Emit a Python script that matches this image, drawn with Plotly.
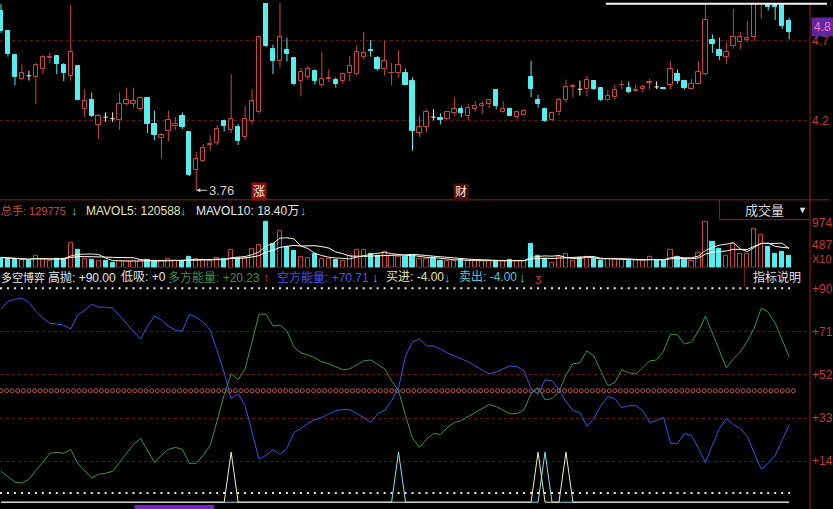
import numpy as np
import plotly.graph_objects as go

W, H = 833, 509
PLOT_RIGHT = 813  # px where the right axis sits

# ---------------- price bars (one entry per trading day) ----------------
opens = [4.89, 4.76, 4.61, 4.46, 4.48, 4.475, 4.52, 4.59, 4.605, 4.545,
         4.48, 4.54, 4.27, 4.325, 4.17, 4.22, 4.21, 4.20, 4.305, 4.305,
         4.27, 4.34, 4.175, 4.09, 4.13, 4.163, 4.23, 4.125, 3.89, 3.945,
         4.045, 4.06, 4.195, 4.14, 4.16, 4.095, 4.195, 4.25, 4.98, 4.65,
         4.575, 4.645, 4.59, 4.45, 4.475, 4.51, 4.42, 4.458, 4.455, 4.445,
         4.495, 4.49, 4.60, 4.645, 4.59, 4.52, 4.495, 4.495, 4.50, 4.445,
         4.12, 4.16, 4.22, 4.215, 4.21, 4.245, 4.27, 4.23, 4.27, 4.29,
         4.305, 4.39, 4.25, 4.27, 4.22, 4.235, 4.47, 4.325, 4.27, 4.20,
         4.25, 4.325, 4.41, 4.395, 4.395, 4.445, 4.40, 4.325, 4.345, 4.42,
         4.40, 4.385, 4.395, 4.435, 4.41, 4.402, 4.42, 4.49, 4.445, 4.395,
         4.43, 4.49, 4.705, 4.64, 4.60, 4.67, 4.69, 4.705, 4.725, 4.97,
         5.00, 4.925, 4.97, 4.825]
highs = [4.93, 4.77, 4.61, 4.55, 4.51, 4.56, 4.61, 4.625, 4.61, 4.56,
         4.925, 4.54, 4.395, 4.375, 4.24, 4.25, 4.25, 4.375, 4.405, 4.405,
         4.35, 4.34, 4.26, 4.12, 4.26, 4.22, 4.25, 4.125, 4.00, 4.05,
         4.105, 4.17, 4.205, 4.49, 4.175, 4.29, 4.395, 4.73, 5.02, 4.675,
         4.96, 4.72, 4.59, 4.53, 4.545, 4.52, 4.63, 4.52, 4.47, 4.50,
         4.605, 4.67, 4.755, 4.705, 4.605, 4.70, 4.56, 4.64, 4.525, 4.47,
         4.225, 4.27, 4.27, 4.245, 4.26, 4.34, 4.29, 4.305, 4.32, 4.32,
         4.33, 4.39, 4.32, 4.28, 4.26, 4.27, 4.575, 4.36, 4.28, 4.255,
         4.34, 4.455, 4.43, 4.45, 4.48, 4.45, 4.405, 4.39, 4.425, 4.45,
         4.445, 4.425, 4.425, 4.46, 4.445, 4.41, 4.57, 4.52, 4.455, 4.46,
         4.57, 4.95, 4.74, 4.72, 4.69, 4.90, 4.755, 4.825, 5.00, 5.05,
         5.02, 4.96, 5.00, 4.845]
lows = [4.75, 4.60, 4.42, 4.45, 4.45, 4.30, 4.49, 4.56, 4.49, 4.445,
        4.45, 4.325, 4.22, 4.22, 4.08, 4.19, 4.19, 4.14, 4.295, 4.28,
        4.26, 4.12, 4.075, 3.96, 4.07, 4.14, 4.145, 3.85, 3.76, 3.94,
        4.01, 4.045, 4.13, 4.12, 4.045, 4.075, 4.175, 4.24, 4.66, 4.49,
        4.53, 4.57, 4.42, 4.35, 4.455, 4.425, 4.405, 4.44, 4.405, 4.43,
        4.445, 4.48, 4.58, 4.60, 4.51, 4.48, 4.42, 4.47, 4.42, 4.01,
        4.095, 4.125, 4.20, 4.175, 4.205, 4.225, 4.22, 4.20, 4.255, 4.24,
        4.275, 4.27, 4.245, 4.225, 4.205, 4.23, 4.345, 4.28, 4.19, 4.195,
        4.23, 4.31, 4.345, 4.355, 4.35, 4.39, 4.32, 4.32, 4.33, 4.395,
        4.37, 4.38, 4.375, 4.395, 4.395, 4.395, 4.395, 4.43, 4.395, 4.395,
        4.425, 4.48, 4.625, 4.58, 4.555, 4.65, 4.645, 4.69, 4.70, 4.84,
        4.89, 4.83, 4.775, 4.71]
closes = [4.76, 4.62, 4.475, 4.50, 4.48, 4.55, 4.595, 4.595, 4.555, 4.50,
          4.63, 4.33, 4.32, 4.23, 4.23, 4.22, 4.21, 4.30, 4.33, 4.32,
          4.34, 4.175, 4.105, 4.105, 4.205, 4.175, 4.155, 3.855, 3.955, 4.025,
          4.05, 4.145, 4.165, 4.21, 4.07, 4.21, 4.32, 4.725, 4.665, 4.57,
          4.725, 4.615, 4.43, 4.505, 4.52, 4.45, 4.46, 4.465, 4.43, 4.49,
          4.54, 4.63, 4.625, 4.635, 4.52, 4.575, 4.50, 4.545, 4.425, 4.13,
          4.16, 4.255, 4.22, 4.20, 4.255, 4.27, 4.245, 4.28, 4.29, 4.30,
          4.325, 4.29, 4.27, 4.23, 4.25, 4.26, 4.395, 4.30, 4.195, 4.245,
          4.325, 4.41, 4.415, 4.395, 4.455, 4.395, 4.33, 4.355, 4.39, 4.425,
          4.375, 4.39, 4.41, 4.44, 4.41, 4.398, 4.52, 4.445, 4.405, 4.43,
          4.505, 4.83, 4.68, 4.605, 4.63, 4.725, 4.725, 4.72, 4.97, 5.02,
          4.91, 4.915, 4.795, 4.755]

# ---------------- volume panel ----------------
volumes = [216, 194, 179, 158, 145, 253, 179, 145, 179, 194,
           540, 374, 194, 158, 145, 145, 108, 145, 145, 145,
           145, 158, 145, 145, 179, 145, 145, 231, 179, 158,
           145, 201, 179, 374, 216, 216, 395, 490, 994, 503,
           793, 447, 361, 231, 216, 287, 194, 179, 158, 145,
           253, 374, 374, 287, 253, 339, 253, 231, 231, 253,
           194, 179, 216, 145, 145, 145, 158, 145, 145, 145,
           145, 145, 145, 158, 145, 145, 518, 253, 194, 108,
           231, 287, 145, 216, 231, 179, 145, 179, 179, 158,
           145, 158, 158, 231, 145, 145, 374, 231, 158, 145,
           324, 994, 562, 395, 253, 503, 287, 287, 842, 719,
           447, 287, 339, 253]
mavol5 = [216, 205, 197, 187, 178, 186, 183, 176, 180, 190,
          248, 286, 296, 292, 282, 203, 150, 140, 137, 137,
          137, 147, 147, 147, 154, 154, 152, 169, 176, 172,
          172, 183, 172, 211, 223, 237, 276, 338, 462, 520,
          635, 645, 619, 467, 410, 308, 258, 222, 207, 193,
          186, 222, 260, 286, 308, 325, 301, 273, 261, 261,
          232, 218, 215, 197, 176, 166, 162, 147, 147, 147,
          147, 145, 145, 147, 147, 147, 222, 244, 251, 244,
          261, 215, 193, 197, 222, 212, 183, 190, 183, 168,
          161, 164, 159, 170, 167, 167, 210, 225, 210, 210,
          246, 370, 436, 484, 505, 541, 400, 345, 435, 528,
          517, 517, 527, 409]
mavol10 = [216, 205, 197, 187, 178, 191, 189, 184, 183, 184,
           217, 235, 236, 236, 236, 225, 218, 218, 215, 210,
           170, 149, 144, 142, 146, 146, 149, 158, 162, 163,
           163, 167, 171, 194, 197, 204, 229, 255, 337, 371,
           436, 461, 479, 465, 465, 472, 452, 421, 337, 301,
           247, 240, 241, 247, 250, 256, 261, 267, 274, 285,
           279, 259, 244, 229, 219, 199, 190, 181, 172, 162,
           157, 153, 146, 147, 147, 147, 183, 194, 199, 195,
           204, 218, 218, 224, 233, 236, 199, 192, 190, 195,
           186, 173, 175, 176, 168, 164, 187, 192, 190, 189,
           207, 290, 331, 347, 358, 394, 385, 391, 459, 517,
           529, 458, 436, 422]

# ---------------- 多空博弈 indicator ----------------
bull_energy = [9.6, 7.0, 4.8, 4.4, 6.1, 10.0, 13.5, 17.5, 17.9, 17.5,
               19.2, 13.1, 10.0, 6.6, 8.3, 8.7, 9.6, 13.5, 17.9, 21.4,
               24.0, 18.8, 13.5, 16.6, 19.2, 20.1, 19.2, 13.1, 13.1, 16.6,
               21.0, 31.9, 43.2, 52.4, 49.8, 54.6, 66.8, 78.6, 78.6, 73.4,
               73.8, 71.2, 64.2, 61.6, 60.7, 59.4, 57.7, 56.8, 55.5, 54.2,
               54.6, 56.4, 58.1, 58.5, 56.4, 54.6, 49.4, 45.0, 34.1, 24.0,
               20.1, 23.6, 26.2, 25.8, 28.8, 31.0, 31.9, 33.6, 35.4, 37.1,
               38.9, 38.0, 36.3, 34.9, 34.9, 36.7, 43.7, 46.5, 41.0, 41.5,
               44.6, 52.0, 56.8, 57.2, 62.5, 60.3, 53.7, 47.2, 48.5, 54.2,
               52.9, 52.4, 55.0, 58.1, 58.5, 62.5, 69.9, 69.5, 65.5, 66.4,
               71.2, 77.8, 70.3, 62.5, 55.0, 59.0, 62.0, 66.8, 72.5, 81.3,
               79.5, 74.7, 67.7, 59.9]
bear_energy = [80.8, 84.3, 85.2, 85.6, 83.9, 79.9, 76.9, 74.7, 74.3, 73.8,
               72.1, 78.2, 80.4, 83.0, 81.7, 81.7, 81.3, 77.8, 74.7, 70.8,
               67.7, 73.4, 77.8, 76.0, 73.4, 71.6, 71.2, 78.6, 77.3, 75.1,
               71.6, 62.5, 52.9, 41.5, 43.7, 38.4, 26.6, 14.9, 16.6, 19.2,
               17.0, 19.7, 26.6, 28.4, 30.6, 32.3, 33.2, 34.9, 36.3, 36.7,
               36.7, 34.9, 33.2, 31.0, 34.9, 36.3, 40.6, 46.3, 60.3, 66.4,
               67.7, 64.7, 64.7, 63.3, 61.6, 60.3, 59.0, 57.7, 55.9, 54.2,
               52.4, 53.3, 54.6, 55.9, 55.5, 53.7, 45.9, 43.5, 49.8, 49.4,
               45.5, 40.2, 36.3, 35.4, 29.3, 32.8, 38.4, 42.4, 41.5, 37.6,
               38.4, 38.4, 36.3, 31.0, 31.9, 33.2, 21.8, 21.8, 26.2, 25.3,
               19.7, 13.5, 21.0, 28.4, 32.8, 30.1, 28.4, 24.9, 17.5, 10.5,
               13.1, 16.6, 23.2, 30.1]
HIGH_SELL = 90.0      # 高抛
LOW_BUY = 0.0         # 低吸
MID_LINE = 45.0
SIGNAL_BASE = -4.0    # 买进 / 卖出 idle value
SIGNAL_PEAK = 18.0
buy_bars = [33, 77, 81]
sell_bars = [57, 78]

price_ticks = [4.2, 4.7]
vol_ticks = [487, 974]
ind_ticks = [14, 33, 52, 71, 90]
ind_grid = [14, 33, 52, 71]
low_bar, low_price = 28, 3.76
event_marks = [(37, "涨", "#8c1010"), (66, "财", "#4a0c0c")]

# ---------------- colours ----------------
RED = "#cc4646"
CYAN = "#55eeee"
GRID = "#5c1616"
AXIS_TXT = "#c23a3a"
FONT = "Liberation Sans, Noto Sans CJK SC, sans-serif"

n = len(closes)
idx = list(range(n))
up = [i for i in idx if closes[i] > opens[i]]
down = [i for i in idx if closes[i] < opens[i]]
flat = [i for i in idx if closes[i] == opens[i]]


def px(v):
    return v / W


def py(v):
    return 1 - v / H


fig = go.Figure()

# --- candle wicks ---
wx, wy = [], []
for i in up:
    wx += [i, i, None, i, i, None]
    wy += [lows[i], opens[i], None, closes[i], highs[i], None]
fig.add_trace(go.Scatter(x=wx, y=wy, mode="lines", line=dict(color=RED, width=1),
                         xaxis="x", yaxis="y", hoverinfo="skip"))
dx, dy = [], []
for i in down:
    dx += [i, i, None]
    dy += [lows[i], highs[i], None]
fig.add_trace(go.Scatter(x=dx, y=dy, mode="lines", line=dict(color=CYAN, width=1),
                         xaxis="x", yaxis="y", hoverinfo="skip"))
fx, fy = [], []
for i in flat:
    fx += [i, i, None, i - 0.32, i + 0.32, None]
    fy += [lows[i], highs[i], None, closes[i], closes[i], None]
fig.add_trace(go.Scatter(x=fx, y=fy, mode="lines", line=dict(color="#f0f0f0", width=1),
                         xaxis="x", yaxis="y", hoverinfo="skip"))

# --- candle bodies ---
fig.add_trace(go.Bar(x=up, base=[opens[i] for i in up],
                     y=[closes[i] - opens[i] for i in up], width=0.62,
                     marker=dict(color="#000000", line=dict(color=RED, width=1)),
                     xaxis="x", yaxis="y", hoverinfo="skip"))
fig.add_trace(go.Bar(x=down, base=[closes[i] for i in down],
                     y=[opens[i] - closes[i] for i in down], width=0.62,
                     marker=dict(color=CYAN, line=dict(color=CYAN, width=1)),
                     xaxis="x", yaxis="y", hoverinfo="skip"))

# --- volume ---
vup = up
vdn = down + flat
fig.add_trace(go.Bar(x=vup, y=[volumes[i] for i in vup], width=0.6,
                     marker=dict(color="#000000", line=dict(color=RED, width=1)),
                     xaxis="x", yaxis="y2", hoverinfo="skip"))
fig.add_trace(go.Bar(x=vdn, y=[volumes[i] for i in vdn], width=0.6,
                     marker=dict(color=CYAN, line=dict(color=CYAN, width=1)),
                     xaxis="x", yaxis="y2", hoverinfo="skip"))
fig.add_trace(go.Scatter(x=idx, y=mavol10, mode="lines", line=dict(color="#ffffff", width=1),
                         xaxis="x", yaxis="y2", hoverinfo="skip"))
fig.add_trace(go.Scatter(x=idx, y=mavol5, mode="lines", line=dict(color="#f2efc8", width=1),
                         xaxis="x", yaxis="y2", hoverinfo="skip"))

# --- indicator ---
circ_x = np.arange(0, n - 0.3, 0.8)
fig.add_trace(go.Scatter(x=circ_x, y=[MID_LINE] * len(circ_x), mode="markers",
                         marker=dict(symbol="circle-open", size=4, color="#c85050",
                                     line=dict(width=1, color="#c85050")),
                         xaxis="x", yaxis="y3", hoverinfo="skip"))
for lvl in (HIGH_SELL, LOW_BUY):
    fig.add_trace(go.Scatter(x=idx, y=[lvl] * n, mode="markers",
                             marker=dict(symbol="square", size=2, color="#e8e8e8"),
                             xaxis="x", yaxis="y3", hoverinfo="skip"))
fig.add_trace(go.Scatter(x=idx, y=bull_energy, mode="lines", line=dict(color="#3f8f55", width=1),
                         xaxis="x", yaxis="y3", hoverinfo="skip"))
fig.add_trace(go.Scatter(x=idx, y=bear_energy, mode="lines", line=dict(color="#4c4ce6", width=1),
                         xaxis="x", yaxis="y3", hoverinfo="skip"))
sell_series = [SIGNAL_PEAK if i in sell_bars else SIGNAL_BASE for i in idx]
buy_series = [SIGNAL_PEAK if i in buy_bars else SIGNAL_BASE for i in idx]
fig.add_trace(go.Scatter(x=idx, y=sell_series, mode="lines", line=dict(color="#8ae0ea", width=1),
                         xaxis="x", yaxis="y3", hoverinfo="skip"))
fig.add_trace(go.Scatter(x=idx, y=buy_series, mode="lines", line=dict(color="#eeeec8", width=1),
                         xaxis="x", yaxis="y3", hoverinfo="skip"))

# ---------------- axes ----------------
xr = [-1 / 7, -1 / 7 + PLOT_RIGHT / 7]
tickfont = dict(color=AXIS_TXT, size=12, family=FONT)
fig.update_layout(
    width=W, height=H, autosize=False,
    margin=dict(l=0, r=0, t=0, b=0, pad=0),
    paper_bgcolor="#000000", plot_bgcolor="#000000",
    showlegend=False, barmode="overlay", bargap=0,
    xaxis=dict(domain=[0, PLOT_RIGHT / W], range=xr, visible=False, anchor="y3"),
    yaxis=dict(domain=[py(198), 1], range=[3.70, 4.9375], side="right", anchor="x",
               tickvals=price_ticks, ticktext=[f"{v:.1f}" for v in price_ticks],
               tickfont=tickfont, showgrid=True, gridcolor=GRID, griddash="dot",
               gridwidth=1, zeroline=False, ticks="", ticklabelstandoff=1),
    yaxis2=dict(domain=[py(266), py(198)], range=[0, 68 * 21.6], side="right", anchor="x",
                tickvals=vol_ticks, ticktext=[str(v) for v in vol_ticks],
                tickfont=tickfont, showgrid=False, zeroline=False, ticks="",
                ticklabelstandoff=1),
    yaxis3=dict(domain=[0, py(283)], range=[-16 / 2.289, 210 / 2.289], side="right", anchor="x",
                tickvals=ind_ticks, ticktext=[f"+{v}" for v in ind_ticks],
                tickfont=tickfont, showgrid=False, zeroline=False, ticks="",
                ticklabelstandoff=1),
    yaxis4=dict(domain=[0, py(283)], range=[-16 / 2.289, 210 / 2.289], overlaying="y3",
                anchor="x", side="right", tickvals=ind_grid, showticklabels=False,
                showgrid=True, gridcolor=GRID, griddash="dot", zeroline=False, ticks=""),
)
# empty trace to activate yaxis4 (grid only)
fig.add_trace(go.Scatter(x=[None], y=[None], xaxis="x", yaxis="y4", hoverinfo="skip"))

# ---------------- frame shapes ----------------
LINE = "#8a2424"
shapes = [
    dict(type="line", xref="paper", yref="paper", x0=px(PLOT_RIGHT), x1=px(PLOT_RIGHT), y0=0, y1=1,
         line=dict(color=LINE, width=1)),
    dict(type="line", xref="paper", yref="paper", x0=0, x1=1, y0=py(198), y1=py(198),
         line=dict(color=LINE, width=1)),
    dict(type="line", xref="paper", yref="paper", x0=px(722), x1=px(722), y0=py(198), y1=py(218),
         line=dict(color=LINE, width=1)),
    dict(type="line", xref="paper", yref="paper", x0=px(722), x1=px(PLOT_RIGHT), y0=py(218), y1=py(218),
         line=dict(color=LINE, width=1)),
    dict(type="line", xref="paper", yref="paper", x0=px(747), x1=px(747), y0=py(266), y1=py(285),
         line=dict(color=LINE, width=1)),
    dict(type="line", xref="paper", yref="paper", x0=px(608), x1=px(830), y0=py(0.8), y1=py(0.8),
         line=dict(color="#f4f4f4", width=2)),
    dict(type="rect", xref="paper", yref="paper", x0=px(135), x1=px(215), y0=0, y1=py(505),
         fillcolor="#7a1fd0", line=dict(width=0)),
]
fig.update_layout(shapes=shapes)

# ---------------- annotations ----------------
ann = []


def label(text, x, y, color, size=12, anchor="left", bg=None, bold=False):
    t = f"<b>{text}</b>" if bold else text
    d = dict(text=t, x=px(x), y=py(y), xref="paper", yref="paper", xanchor=anchor,
             yanchor="middle", showarrow=False, font=dict(color=color, size=size, family=FONT))
    if bg:
        d.update(bgcolor=bg, borderpad=1)
    ann.append(d)


ARROW_C = "#3fd2d2"
# volume header
label("总手: 129775", -1, 209, "#c84c4c", size=11)
label("↓", 69, 209, ARROW_C, size=13, bold=True)
label("MAVOL5: 120588", 84, 209, "#e6e6a6")
label("↓", 179, 209, ARROW_C, size=13, bold=True)
label("MAVOL10: 18.40万", 195, 209, "#e8e8e8")
label("↓", 299, 209, ARROW_C, size=13, bold=True)
# indicator header
label("多空博弈", -1, 276, "#e8e8e8", size=11)
label("高抛: +90.00", 46, 276, "#e8e8e8")
label("低吸: +0", 119, 276, "#e8e8e8")
label("多方能量: +20.23", 167, 276, "#3f8f55")
label("↑", 262, 276, "#e04040", size=13, bold=True)
label("空方能量: +70.71", 276, 276, "#5050ea")
label("↓", 371, 276, ARROW_C, size=13, bold=True)
label("买进: -4.00", 385, 276, "#e6e6a6")
label("↓", 444, 276, ARROW_C, size=13, bold=True)
label("卖出: -4.00", 459, 276, "#4fc8d4")
label("↓", 519, 276, ARROW_C, size=13, bold=True)
label("ʒ", 535, 277, "#d04040", size=11)
# boxes
label("成交量", 746, 209, "#d8d8d8", size=13)
label("▼", 799, 208, "#e0e0e0", size=9)
label("指标说明", 754, 276, "#e0e0e0", size=12)
# right-side extras
label("X10", 813, 258, AXIS_TXT, size=11)
ann.append(dict(text="4.8", x=px(PLOT_RIGHT + 1), y=py(24.5), xref="paper", yref="paper",
                xanchor="left", yanchor="middle", showarrow=False, bgcolor="#5c2a9e",
                borderpad=2, font=dict(color="#ff6fd0", size=12, family=FONT)))
# low marker
ann.append(dict(text="3.76", x=low_bar, y=low_price, xref="x", yref="y", showarrow=True,
                ax=25, ay=0, arrowhead=2, arrowsize=0.8, arrowwidth=1, arrowcolor="#cfcfcf",
                font=dict(color="#cfcfcf", size=13, family=FONT)))
# event markers
for bar, ch, bg in event_marks:
    ann.append(dict(text=ch, x=bar, y=py(190), xref="x", yref="paper", showarrow=False,
                    bgcolor=bg, borderpad=1, font=dict(color="#f4e8e8", size=12, family=FONT)))
fig.update_layout(annotations=ann)

fig.write_html("out.html", config={"displayModeBar": False},
               post_script="document.body.style.margin='0';")
